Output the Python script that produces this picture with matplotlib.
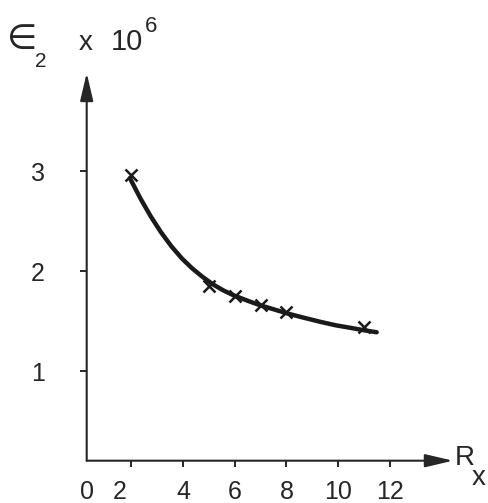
import matplotlib
matplotlib.use('Agg')
import matplotlib.pyplot as plt
from matplotlib.transforms import ScaledTranslation

plt.rcParams['font.family'] = ['Liberation Sans', 'DejaVu Sans']

# measured points (crosses)
rx_points = [2, 5, 6, 7, 8, 11]
eps_points = [2.96, 1.85, 1.75, 1.66, 1.59, 1.44]
# hand-drawn curve through the points
rx_curve = [1.95, 2.35, 2.75, 3.15, 3.55, 3.95, 4.35, 4.75, 5.15, 5.55, 5.95,
            6.5, 6.98, 7.5, 8.01, 8.6, 9.3, 9.9, 10.46, 11.0, 11.49]
eps_curve = [2.93, 2.73, 2.55, 2.39, 2.25, 2.13, 2.03, 1.945, 1.87, 1.81, 1.76,
             1.705, 1.66, 1.62, 1.58, 1.54, 1.495, 1.46, 1.435, 1.41, 1.39]
x_ticks = [2, 4, 6, 8, 10, 12]
y_ticks = [1, 2, 3]

W, H = 489, 503
ink = '#262626'

fig = plt.figure(figsize=(W / 100, H / 100), dpi=100)
ax = fig.add_axes([0.1773, 0.0841, 0.749, 0.7708])
ax.set_xlim(0.28, 14.44)
ax.set_ylim(0.107, 3.98)

ax.plot(rx_curve, eps_curve, color='#1a1a1a', lw=3.2,
        solid_capstyle='round', solid_joinstyle='round')
ax.plot(rx_points, eps_points, ls='none', marker='x', ms=8, mew=1.8, color='#1a1a1a')

# axes drawn as arrows instead of spines
for s in ax.spines.values():
    s.set_visible(False)
arrow = dict(arrowstyle='-|>,head_length=0.85,head_width=0.2', lw=1.5, color=ink,
             shrinkA=0, shrinkB=0, mutation_scale=20)
ax.annotate('', xy=(1, 0), xytext=(0, 0), xycoords='axes fraction', arrowprops=arrow)
ax.annotate('', xy=(0, 1), xytext=(0, 0), xycoords='axes fraction', arrowprops=arrow)

ax.set_xticks(x_ticks)
ax.set_yticks(y_ticks)
ax.tick_params(axis='x', direction='out', length=4.5, width=1.4, pad=9.5,
               labelsize=18, colors=ink)
ax.tick_params(axis='y', direction='out', length=5, width=1.4, pad=25,
               labelsize=18, colors=ink)
# the "2" is lettered a bit left of its tick
lbl = ax.get_xticklabels()[0]
lbl.set_transform(lbl.get_transform() + ScaledTranslation(-0.12, 0, fig.dpi_scale_trans))
ax.annotate('0', xy=(0, 0), xycoords='axes fraction', xytext=(0, -13.9),
            textcoords='offset points', ha='center', va='top', fontsize=18, color=ink)


def put(x, y, s, size, **kw):
    fig.text(x / W, 1 - y / H, s, fontsize=size, color=ink, ha='left', va='baseline', **kw)


# axis titles
put(7, 49, '\u2208', 25)
put(35, 67, '2', 15)
put(79, 50, 'x', 20)
put(111, 50, '10', 21)
put(145, 32, '6', 16)
put(455, 465, 'R', 20)
put(472, 485, 'x', 20)

fig.savefig('out.png', dpi=100, facecolor='white')
